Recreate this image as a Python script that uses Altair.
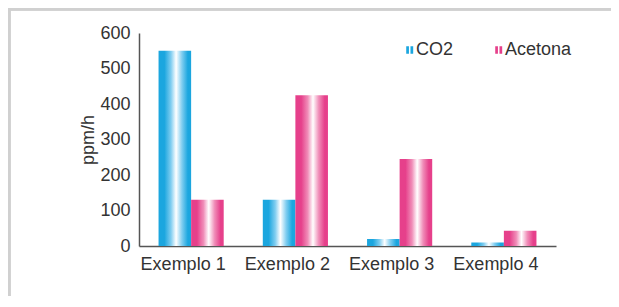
import altair as alt
import pandas as pd

categories = ["Exemplo 1", "Exemplo 2", "Exemplo 3", "Exemplo 4"]
series = ["CO2", "Acetona"]
co2 = [550, 130, 20, 10]
acetona = [130, 425, 245, 43]
y_ticks = [0, 100, 200, 300, 400, 500, 600]

rows = []
for c, a, b in zip(categories, co2, acetona):
    rows.append({"Exemplo": c, "Serie": "CO2", "ppm": a})
    rows.append({"Exemplo": c, "Serie": "Acetona", "ppm": b})
df = pd.DataFrame(rows)

BLUE = "#1ba6df"
PINK = "#e6408b"
FONT = "Liberation Sans"
TXT = "#333333"


def grad(edge, mid):
    return alt.Gradient(
        gradient="linear",
        x1=0, x2=1, y1=0, y2=0,
        stops=[
            alt.GradientStop(color=edge, offset=0),
            alt.GradientStop(color=edge, offset=0.18),
            alt.GradientStop(color=mid, offset=0.38),
            alt.GradientStop(color="#ffffff", offset=0.54),
            alt.GradientStop(color=mid, offset=0.72),
            alt.GradientStop(color=edge, offset=0.9),
            alt.GradientStop(color=edge, offset=1),
        ],
    )


x_enc = alt.X(
    "Exemplo:N",
    sort=categories,
    scale=alt.Scale(paddingInner=0.375, paddingOuter=0.1875),
    axis=alt.Axis(
        title=None, labelAngle=0, ticks=False, domainColor="#555555", domainWidth=1.5,
        labelFont=FONT, labelFontSize=18, labelColor=TXT, labelPadding=9,
        labelOffset=-8,
    ),
)
xoff_enc = alt.XOffset("Serie:N", sort=series, scale=alt.Scale(domain=series, paddingInner=0, paddingOuter=0))
y_enc = alt.Y(
    "ppm:Q",
    scale=alt.Scale(domain=[0, 600], nice=False),
    axis=alt.Axis(
        values=y_ticks, title="ppm/h", grid=False, ticks=False,
        domainColor="#555555", domainWidth=1.5,
        labelFont=FONT, labelFontSize=18, labelColor=TXT, labelPadding=9,
        titleFont=FONT, titleFontSize=18, titleColor=TXT, titleFontWeight="normal",
        titlePadding=2,
    ),
)

base = alt.Chart(df)

co2_bars = base.transform_filter(alt.datum.Serie == "CO2").mark_bar(
    fill=grad(BLUE, "#7fcdf0")
).encode(x=x_enc, xOffset=xoff_enc, y=y_enc)

ace_bars = base.transform_filter(alt.datum.Serie == "Acetona").mark_bar(
    fill=grad(PINK, "#f08db8")
).encode(x=x_enc, xOffset=xoff_enc, y=y_enc)

legend_layer = base.mark_point(filled=True, opacity=0).encode(
    x=x_enc, xOffset=xoff_enc, y=y_enc,
    color=alt.Color(
        "Serie:N",
        scale=alt.Scale(domain=series, range=[BLUE, PINK]),
        legend=alt.Legend(
            title=None, orient="none", legendX=259, legendY=8, direction="horizontal",
            symbolType="M-0.2,-1H0.5V1H-0.2Z M0.9,-1H1.6V1H0.9Z",
            symbolSize=60, symbolOpacity=1, symbolStrokeWidth=0,
            labelFont=FONT, labelFontSize=18, labelColor=TXT, labelOffset=0,
            columnPadding=33,
        ),
    ),
)

frame_top = alt.Chart(df).mark_rule(color="#d0d0d0", strokeWidth=2.5).encode(
    x=alt.value(-131), x2=alt.value(480), y=alt.value(-24)
)
frame_left = alt.Chart(df).mark_rule(color="#d0d0d0", strokeWidth=2.5).encode(
    x=alt.value(-130), y=alt.value(-25), y2=alt.value(300)
)

chart = alt.layer(frame_top, frame_left, co2_bars, ace_bars, legend_layer).properties(
    width=417,
    height=213,
    autosize=alt.AutoSizeParams(type="none"),
    padding={"left": 131, "top": 25, "right": 55, "bottom": 50},
    background="white",
).configure_view(stroke=None)

chart.save("out.html", embed_options={"renderer": "svg", "actions": False})
